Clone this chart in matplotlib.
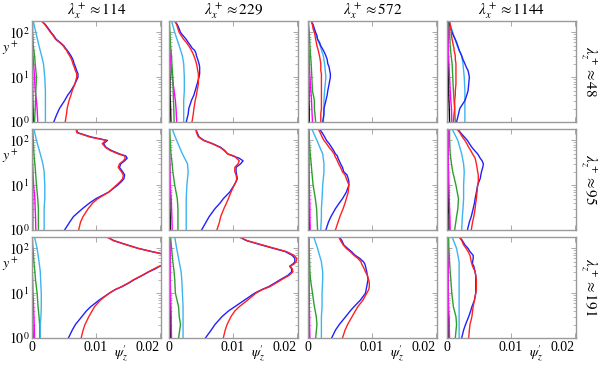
import matplotlib
matplotlib.use("Agg")
import matplotlib.pyplot as plt
from matplotlib.ticker import LogLocator, NullFormatter, FixedLocator
import numpy as np

plt.rcParams['font.family'] = ['Liberation Serif', 'DejaVu Serif']
plt.rcParams['mathtext.fontset'] = 'stix'

# y+ levels at which the profiles were read
YF = [1, 1.5, 2, 3, 4, 5, 7, 10, 12, 14, 17, 20, 25, 30, 35, 40, 45, 50, 60, 70, 85, 100, 120, 150, 180]
YC = [1, 2, 3, 5, 10, 20, 30, 50, 100, 180]

lam_x = [114, 229, 572, 1144]
lam_z = [48, 95, 191]

# values in units of 1e-3, panels row by row (r1c1 .. r3c4)
blue = [
    [3.4, 3.9, 4.3, 5.1, 5.6, 6.1, 6.7, 7.2, 7.2, 7.0, 6.8, 6.6, 6.4, 6.1, 5.8, 5.5, 5.2, 5.0, 4.4, 3.8, 3.4, 3.0, 2.6, 2.1, 1.5],
    [2.7, 3.0, 3.1, 3.5, 3.9, 4.1, 4.4, 4.7, 4.8, 4.8, 4.8, 4.7, 4.5, 4.3, 4.2, 4.0, 3.6, 3.4, 3.0, 2.7, 2.2, 1.8, 1.6, 1.3, 0.9],
    [2.3, 2.5, 2.5, 2.8, 3.0, 3.1, 3.3, 3.5, 3.5, 3.4, 3.3, 3.1, 3.0, 2.8, 2.6, 2.4, 2.2, 2.0, 1.8, 1.5, 1.4, 1.2, 1.0, 0.8, 0.5],
    [1.5, 1.8, 2.0, 2.8, 3.1, 3.3, 3.4, 3.5, 3.4, 3.3, 3.0, 2.8, 2.5, 2.3, 2.1, 1.9, 1.8, 1.7, 1.5, 1.3, 1.0, 0.8, 0.6, 0.4, 0.3],
    [5.1, 5.9, 6.5, 7.9, 9.0, 10.0, 12.0, 13.4, 14.0, 14.4, 14.5, 14.2, 13.7, 13.9, 14.5, 14.9, 14.7, 13.7, 12.4, 11.6, 11.2, 11.8, 9.2, 7.1, 7.0],
    [5.1, 5.8, 6.3, 7.2, 8.0, 8.5, 9.5, 10.2, 10.5, 10.7, 10.6, 10.5, 10.5, 11.2, 11.6, 11.0, 10.0, 9.2, 8.7, 8.1, 6.8, 5.5, 4.7, 4.4, 4.2],
    [2.8, 3.2, 3.6, 4.3, 4.9, 5.4, 6.0, 6.4, 6.4, 6.3, 6.1, 5.6, 5.4, 5.1, 4.9, 4.7, 4.6, 4.3, 4.0, 3.7, 3.3, 2.9, 2.6, 2.2, 1.8],
    [3.2, 3.5, 3.8, 4.1, 4.3, 4.4, 4.6, 4.8, 5.0, 5.2, 5.3, 5.4, 5.6, 5.7, 5.5, 5.2, 5.0, 4.8, 4.3, 3.9, 3.5, 3.2, 2.7, 2.1, 1.7],
    [5.7, 6.3, 6.8, 7.8, 8.5, 9.2, 10.5, 12.1, 13.0, 14.1, 15.2, 16.0, 17.3, 18.3, 19.3, 20.0, 21.0, 22.0, 22.5, 21.5, 18.8, 16.7, 14.9, 12.8, 11.8],
    [5.7, 6.6, 7.2, 8.3, 9.3, 10.3, 11.8, 13.4, 14.5, 15.6, 16.6, 17.4, 18.6, 19.2, 19.2, 18.9, 19.4, 19.7, 19.7, 19.3, 18.2, 16.4, 14.4, 12.1, 11.0],
    [3.7, 4.3, 4.9, 5.9, 6.6, 7.2, 8.2, 9.0, 9.1, 9.2, 9.3, 9.4, 9.3, 9.2, 9.1, 9.0, 8.9, 8.7, 8.1, 7.4, 6.8, 6.2, 5.6, 5.3, 4.9],
    [2.3, 2.6, 2.9, 3.4, 3.7, 3.9, 4.3, 4.5, 4.5, 4.5, 4.5, 4.5, 4.5, 4.4, 4.3, 4.2, 4.0, 4.0, 4.1, 4.1, 3.6, 3.3, 2.8, 2.4, 2.0],
]
red = [
    [5.2, 5.4, 5.5, 5.8, 6.1, 6.3, 6.7, 7.0, 7.0, 6.8, 6.6, 6.4, 6.2, 5.9, 5.6, 5.4, 5.1, 4.9, 4.3, 3.7, 3.3, 2.9, 2.5, 2.0, 1.5],
    [3.6, 3.8, 3.9, 4.1, 4.3, 4.4, 4.6, 4.6, 4.6, 4.5, 4.4, 4.3, 4.1, 3.9, 3.7, 3.5, 3.3, 3.1, 2.7, 2.3, 1.9, 1.6, 1.4, 1.2, 0.9],
    [2.0, 2.0, 2.1, 2.1, 2.1, 2.1, 2.1, 2.1, 2.1, 2.0, 2.0, 2.0, 1.9, 1.8, 1.7, 1.6, 1.5, 1.4, 1.3, 1.2, 1.1, 1.0, 0.8, 0.7, 0.5],
    [1.0, 1.1, 1.2, 1.2, 1.3, 1.3, 1.4, 1.4, 1.4, 1.4, 1.4, 1.4, 1.3, 1.3, 1.2, 1.1, 1.1, 1.0, 0.9, 0.8, 0.7, 0.7, 0.6, 0.5, 0.4],
    [7.3, 7.6, 8.0, 8.8, 9.5, 10.3, 12.0, 13.2, 13.8, 14.2, 14.3, 14.0, 13.5, 13.7, 14.3, 14.6, 14.5, 13.5, 12.2, 11.5, 11.0, 11.6, 9.0, 7.0, 6.9],
    [7.5, 7.9, 8.1, 8.6, 9.0, 9.3, 9.7, 10.2, 10.5, 10.6, 10.5, 10.3, 10.3, 10.8, 11.0, 10.6, 10.2, 9.2, 8.6, 8.0, 6.7, 5.4, 4.6, 4.3, 4.2],
    [4.3, 4.7, 5.0, 5.5, 5.8, 6.0, 6.3, 6.4, 6.2, 6.0, 5.8, 5.4, 5.1, 4.8, 4.6, 4.4, 4.2, 4.1, 3.7, 3.3, 2.9, 2.5, 2.2, 1.9, 1.6],
    [3.8, 4.0, 4.2, 4.4, 4.5, 4.6, 4.7, 4.8, 4.9, 4.9, 4.9, 4.8, 4.7, 4.6, 4.5, 4.4, 4.2, 4.0, 3.7, 3.4, 3.1, 2.8, 2.4, 2.0, 1.5],
    [7.7, 8.0, 8.3, 8.9, 9.4, 9.8, 10.7, 12.1, 13.0, 14.0, 15.1, 15.9, 17.2, 18.2, 19.1, 19.9, 21.0, 22.0, 22.5, 21.5, 18.7, 16.6, 14.8, 12.7, 11.7],
    [8.5, 8.8, 9.1, 9.7, 10.3, 11.0, 12.3, 13.6, 14.6, 15.8, 16.8, 17.6, 18.8, 19.4, 19.3, 19.0, 19.6, 19.9, 20.0, 19.6, 18.4, 16.6, 14.6, 12.2, 11.1],
    [5.4, 5.8, 6.2, 6.9, 7.4, 7.8, 8.6, 9.2, 9.5, 9.6, 9.6, 9.5, 9.3, 9.0, 8.8, 8.6, 8.4, 8.3, 7.8, 7.2, 6.6, 6.0, 5.5, 5.1, 4.8],
    [3.4, 3.5, 3.6, 3.9, 4.0, 4.1, 4.3, 4.5, 4.6, 4.6, 4.6, 4.6, 4.5, 4.4, 4.2, 4.0, 3.9, 3.8, 3.7, 3.6, 3.3, 3.0, 2.6, 2.3, 1.9],
]
cyan = [
    [2.1, 2.1, 2.1, 2.1, 2.0, 1.8, 1.5, 1.1, 0.6, 0.2],
    [2.3, 2.3, 2.3, 2.4, 2.4, 2.3, 2.1, 1.6, 0.9, 0.4],
    [2.4, 2.5, 2.5, 2.6, 2.8, 2.6, 2.4, 1.9, 1.1, 0.5],
    [2.8, 2.8, 2.8, 2.8, 2.7, 2.5, 2.3, 1.6, 0.9, 0.35],
    [1.9, 1.9, 1.9, 2.0, 2.0, 1.9, 1.7, 1.3, 0.7, 0.3],
    [2.7, 2.7, 2.7, 2.7, 2.8, 3.0, 2.9, 2.1, 1.2, 0.5],
    [2.0, 2.1, 2.1, 2.2, 2.3, 2.5, 2.5, 2.3, 1.4, 0.6],
    [2.3, 2.4, 2.5, 2.6, 2.6, 2.7, 2.6, 2.3, 1.7, 0.8],
    [1.3, 1.3, 1.4, 1.45, 1.45, 1.35, 1.3, 1.1, 0.8, 0.4],
    [2.2, 2.2, 2.2, 2.2, 2.1, 2.0, 1.9, 1.6, 1.2, 0.9],
    [2.1, 2.1, 2.1, 2.2, 2.2, 2.3, 2.3, 2.1, 1.5, 0.9],
    [1.9, 1.9, 1.9, 1.9, 1.9, 1.9, 1.9, 1.9, 1.5, 0.8],
]
green = [
    [0.4, 0.5, 0.55, 0.6, 0.7, 0.5, 0.4, 0.2, 0.1, 0.1],
    [0.8, 0.75, 0.7, 0.65, 0.6, 0.45, 0.4, 0.25, 0.15, 0.05],
    [1.2, 1.0, 1.0, 0.7, 0.6, 0.5, 0.4, 0.3, 0.2, 0.05],
    [1.3, 1.2, 1.1, 1.0, 0.9, 0.8, 0.65, 0.5, 0.4, 0.25],
    [1.0, 1.0, 1.0, 0.9, 0.7, 0.55, 0.45, 0.3, 0.2, 0.1],
    [1.4, 1.4, 1.4, 1.3, 0.9, 0.6, 0.5, 0.3, 0.2, 0.1],
    [1.5, 1.4, 1.35, 1.15, 0.8, 0.6, 0.5, 0.35, 0.2, 0.1],
    [1.2, 1.5, 1.7, 1.8, 1.4, 0.9, 0.7, 0.5, 0.4, 0.4],
    [1.2, 1.2, 1.1, 0.95, 0.8, 0.55, 0.45, 0.3, 0.15, 0.05],
    [1.5, 1.8, 1.6, 1.5, 1.0, 0.9, 0.8, 0.6, 0.4, 0.25],
    [1.2, 1.4, 1.3, 1.0, 0.7, 0.4, 0.3, 0.25, 0.15, 0.1],
    [1.3, 1.5, 1.4, 1.0, 0.75, 0.6, 0.5, 0.4, 0.3, 0.25],
]
magenta = [
    [0.9, 0.8, 0.7, 0.5, 0.4, 0.25, 0.15, 0.1, 0.05, 0.05],
    [1.2, 1.1, 1.0, 0.8, 0.5, 0.3, 0.2, 0.1, 0.05, 0.05],
    [0.7, 0.6, 0.55, 0.45, 0.3, 0.2, 0.15, 0.1, 0.05, 0.05],
    [0.75, 0.7, 0.6, 0.5, 0.4, 0.3, 0.25, 0.2, 0.15, 0.2],
    [0.6, 0.55, 0.5, 0.45, 0.25, 0.15, 0.1, 0.05, 0.05, 0.05],
    [0.5, 0.45, 0.4, 0.35, 0.2, 0.15, 0.1, 0.1, 0.05, 0.05],
    [0.35, 0.3, 0.3, 0.25, 0.2, 0.15, 0.12, 0.1, 0.1, 0.1],
    [0.5, 0.45, 0.4, 0.35, 0.3, 0.25, 0.2, 0.2, 0.2, 0.2],
    [0.4, 0.35, 0.3, 0.25, 0.15, 0.1, 0.05, 0.05, 0.0, 0.0],
    [0.4, 0.35, 0.35, 0.3, 0.25, 0.2, 0.2, 0.2, 0.2, 0.2],
    [0.3, 0.25, 0.25, 0.2, 0.2, 0.15, 0.1, 0.1, 0.1, 0.1],
    [0.4, 0.35, 0.3, 0.25, 0.2, 0.2, 0.2, 0.2, 0.15, 0.1],
]
black = [
    [0.2, 0.15, 0.12, 0.1, 0.08, 0.05, 0.03, 0.02, 0.01, 0.0],
    [0.3, 0.25, 0.2, 0.15, 0.15, 0.1, 0.1, 0.05, 0.05, 0.05],
    [0.2, 0.2, 0.15, 0.15, 0.1, 0.1, 0.1, 0.05, 0.05, 0.05],
    [0.4, 0.35, 0.3, 0.25, 0.2, 0.2, 0.2, 0.15, 0.15, 0.2],
    [0.1, 0.1, 0.1, 0.1, 0.05, 0.05, 0.05, 0.0, 0.0, 0.0],
    [0.2, 0.2, 0.15, 0.15, 0.1, 0.1, 0.1, 0.05, 0.05, 0.05],
    [0.2, 0.2, 0.15, 0.15, 0.15, 0.1, 0.1, 0.1, 0.1, 0.1],
    [0.3, 0.3, 0.25, 0.2, 0.15, 0.15, 0.15, 0.1, 0.1, 0.1],
    [0.15, 0.1, 0.1, 0.1, 0.05, 0.05, 0.05, 0.0, 0.0, 0.0],
    [0.2, 0.2, 0.2, 0.2, 0.15, 0.15, 0.1, 0.1, 0.1, 0.1],
    [0.15, 0.15, 0.15, 0.1, 0.1, 0.1, 0.1, 0.1, 0.1, 0.1],
    [0.3, 0.3, 0.25, 0.2, 0.2, 0.15, 0.15, 0.15, 0.1, 0.1],
]

W, H = 598, 365
fig = plt.figure(figsize=(W / 100, H / 100), dpi=100)

col_left = [32, 169, 308, 447]
row_top = [21, 129, 237]
pw, ph = 129, 101
frame = '#9a9a9a'

for r in range(3):
    for c in range(4):
        k = r * 4 + c
        ax = fig.add_axes([col_left[c] / W, 1 - (row_top[r] + ph) / H, pw / W, ph / H])
        s = 1e-3
        ax.plot(np.array(black[k]) * s, YC, color='black', lw=1.0)
        ax.plot(np.array(magenta[k]) * s, YC, color='#ff00ff', lw=1.0)
        ax.plot(np.array(green[k]) * s, YC, color='#2ca02c', lw=1.0)
        ax.plot(np.array(cyan[k]) * s, YC, color='#3cb4f0', lw=1.0)
        ax.plot(np.array(blue[k]) * s, YF, color='#2020ff', lw=1.0)
        ax.plot(np.array(red[k]) * s, YF, color='#ff2020', lw=1.0)

        ax.set_yscale('log')
        ax.set_ylim(1, 180)
        ax.set_xlim(0, 0.0202)
        ax.xaxis.set_major_locator(FixedLocator([0, 0.01, 0.02]))
        ax.yaxis.set_major_locator(LogLocator(base=10))
        ax.yaxis.set_minor_locator(LogLocator(base=10, subs=np.arange(2, 10)))
        ax.yaxis.set_minor_formatter(NullFormatter())
        ax.tick_params(which='both', direction='in', top=True, right=True,
                       color=frame, labelsize=10, pad=2)
        ax.tick_params(which='major', length=3.5, width=0.6)
        ax.tick_params(which='minor', length=2, width=0.5)
        for sp in ax.spines.values():
            sp.set_color(frame)
            sp.set_linewidth(1.0)

        if c == 0:
            ax.set_yticks([1, 10, 100])
            ax.set_yticklabels(['$10^0$', '$10^1$', '$10^2$'])
            ax.text(-0.17, 0.73, '$y^+$', transform=ax.transAxes, fontsize=10,
                    ha='center', va='center')
        else:
            ax.set_yticklabels([])
        if r == 2:
            ax.set_xticklabels(['0', '0.01', '0.02'])
            ax.get_xticklabels()[-1].set_horizontalalignment('right')
            ax.text(0.69, -0.15, "$\\psi_z'$", transform=ax.transAxes, fontsize=10,
                    ha='center', va='center')
        else:
            ax.set_xticklabels([])
        if r == 0:
            ax.set_title('$\\lambda_x^+ \\approx %d$' % lam_x[c], fontsize=11, pad=3)
        if c == 3:
            ax.text(1.1, 0.5, '$\\lambda_z^+ \\approx %d$' % lam_z[r], transform=ax.transAxes,
                    rotation=-90, fontsize=11, ha='center', va='center')

fig.savefig('out.png', dpi=100)
